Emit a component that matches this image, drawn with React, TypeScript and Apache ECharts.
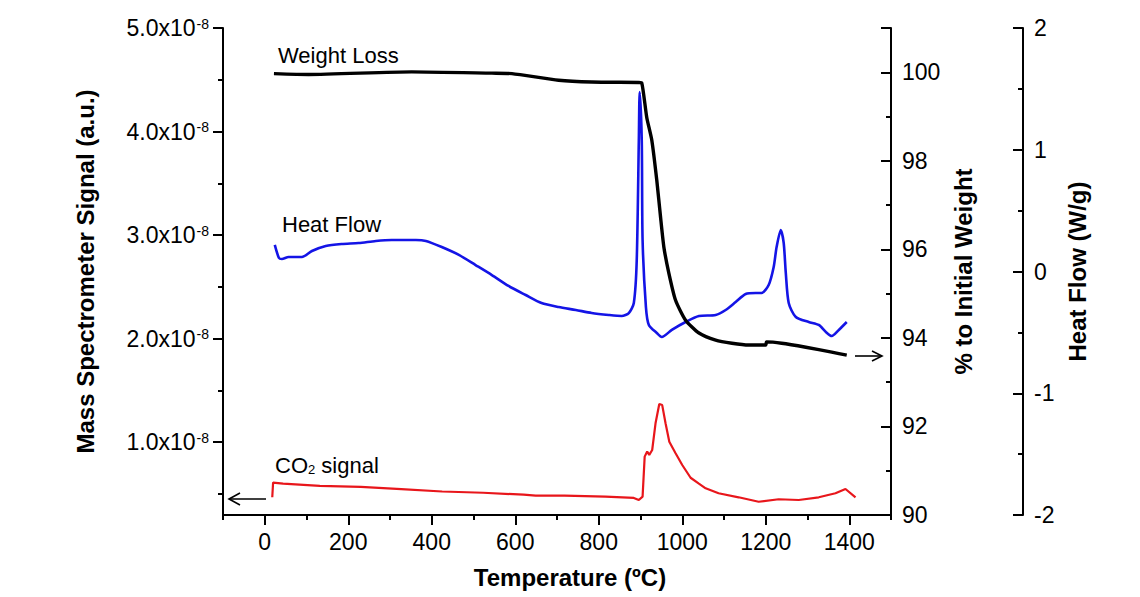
import React, { useEffect, useRef } from 'react';
import * as echarts from 'echarts';

const FONT = '"Liberation Sans", Arial, Helvetica, sans-serif';

// ---- Axis ticks / labels ----
const xMajor = [0, 200, 400, 600, 800, 1000, 1200, 1400];
const xMinor = [-100, 100, 300, 500, 700, 900, 1100, 1300, 1500];
const msMajor = [1, 2, 3, 4, 5]; // x10^-8
const msMinor = [0.5, 1.5, 2.5, 3.5, 4.5];
const wtLabels = [90, 92, 94, 96, 98, 100];
const wtMajorTicks = [90, 92, 94, 96, 98, 100, 101];
const wtMinor = [91, 93, 95, 97, 99];
const hfMajor = [-2, -1, 0, 1, 2];
const hfMinor = [-1.5, -0.5, 0.5, 1.5];

// ---- Weight loss (% to initial weight) ----
const weightT = [22, 105, 352, 544, 592, 704, 783, 896, 903, 915, 927, 939, 948, 956, 968, 984, 1008, 1040, 1080, 1119, 1159, 1200, 1202, 1238, 1296, 1358, 1394];
const weightPct = [99.97, 99.95, 100.01, 99.98, 99.97, 99.82, 99.78, 99.77, 99.76, 98.98, 98.47, 97.56, 96.73, 96.05, 95.46, 94.85, 94.4, 94.11, 93.95, 93.88, 93.84, 93.84, 93.91, 93.88, 93.79, 93.68, 93.61];

// ---- Heat flow (W/g) ----
const heatT = [24, 34, 41, 57, 74, 89, 113, 146, 184, 225, 266, 304, 362, 386, 424, 465, 505, 544, 584, 625, 663, 704, 745, 783, 824, 855, 872, 884, 891, 896, 898, 903, 905, 913, 920, 939, 951, 975, 1008, 1040, 1080, 1104, 1128, 1152, 1176, 1190, 1207, 1219, 1226, 1236, 1243, 1248, 1255, 1272, 1303, 1327, 1344, 1358, 1375, 1394];
const heatFlow = [0.218, 0.111, 0.103, 0.119, 0.119, 0.119, 0.168, 0.209, 0.226, 0.234, 0.251, 0.259, 0.259, 0.251, 0.201, 0.136, 0.053, -0.029, -0.119, -0.193, -0.259, -0.292, -0.316, -0.341, -0.357, -0.365, -0.341, -0.259, 0.094, 1.08, 1.474, 1.08, 0.259, -0.292, -0.439, -0.505, -0.538, -0.48, -0.415, -0.366, -0.357, -0.316, -0.251, -0.185, -0.177, -0.177, -0.111, 0.037, 0.201, 0.341, 0.234, -0.012, -0.259, -0.374, -0.415, -0.439, -0.497, -0.53, -0.48, -0.415];

// ---- CO2 mass spectrometer signal (x10^-8 a.u.) ----
const co2T = [18, 20, 44, 132, 230, 327, 425, 523, 620, 649, 718, 816, 884, 896, 905, 910, 916, 921, 928, 936, 945, 952, 960, 969, 984, 1000, 1020, 1039, 1056, 1087, 1135, 1183, 1231, 1279, 1327, 1367, 1391, 1415];
const co2Signal = [0.466, 0.608, 0.598, 0.576, 0.567, 0.545, 0.522, 0.51, 0.491, 0.482, 0.482, 0.472, 0.46, 0.44, 0.472, 0.859, 0.908, 0.876, 0.923, 1.181, 1.368, 1.357, 1.181, 1.003, 0.891, 0.778, 0.655, 0.601, 0.553, 0.505, 0.466, 0.423, 0.447, 0.44, 0.466, 0.505, 0.546, 0.466];

const pairs = (xs: number[], ys: number[]) => xs.map((x, i) => [x, ys[i]]);

const axisLineStyle = { color: '#000', width: 2 };
const tickStyle = { color: '#000', width: 2 };
const LABEL_SIZE = 23;
const labelBase = { color: '#000', fontSize: LABEL_SIZE, fontFamily: FONT };
const nameStyle = { color: '#000', fontSize: 24, fontWeight: 'bold' as const, fontFamily: FONT };

function buildOption() {
  return {
    animation: false,
    backgroundColor: '#fff',
    grid: { left: 223, right: 249, top: 28, bottom: 82, containLabel: false },
    xAxis: [
      {
        type: 'value', min: -100, max: 1500, position: 'bottom',
        axisLine: { show: true, onZero: false, lineStyle: axisLineStyle },
        axisTick: { show: true, inside: false, length: 10, lineStyle: tickStyle, customValues: xMajor },
        axisLabel: { ...labelBase, margin: 15, customValues: xMajor, formatter: (v: number) => String(v) },
        splitLine: { show: false },
        name: 'Temperature (ºC)', nameLocation: 'middle', nameGap: 50,
        nameTextStyle: { ...nameStyle, padding: [0, 0, 0, 26] },
      },
      {
        type: 'value', min: -100, max: 1500, position: 'bottom',
        axisLine: { show: false, onZero: false },
        axisTick: { show: true, inside: false, length: 5, lineStyle: tickStyle, customValues: xMinor },
        axisLabel: { show: false },
        splitLine: { show: false },
      },
    ],
    yAxis: [
      {
        type: 'value', min: 0.295, max: 5, position: 'left', offset: 0,
        axisLine: { show: true, onZero: false, lineStyle: axisLineStyle },
        axisTick: { show: true, inside: false, length: 10, lineStyle: tickStyle, customValues: msMajor },
        axisLabel: {
          ...labelBase, margin: 14, customValues: msMajor,
          formatter: (v: number) => `{n|${v.toFixed(1)}x10}{s|-8}`,
          rich: {
            n: { fontSize: LABEL_SIZE, fontFamily: FONT, color: '#000' },
            s: { fontSize: 14, fontFamily: FONT, color: '#000', verticalAlign: 'top', padding: [0, 0, 9, 1] },
          },
        },
        splitLine: { show: false },
        name: 'Mass Spectrometer Signal (a.u.)', nameLocation: 'middle', nameGap: 126,
        nameTextStyle: nameStyle,
      },
      {
        type: 'value', min: 0.295, max: 5, position: 'left', offset: 0,
        axisLine: { show: false, onZero: false },
        axisTick: { show: true, inside: false, length: 5, lineStyle: tickStyle, customValues: msMinor },
        axisLabel: { show: false },
        splitLine: { show: false },
      },
      {
        type: 'value', min: 90, max: 101, position: 'right', offset: 0,
        axisLine: { show: true, onZero: false, lineStyle: axisLineStyle },
        axisTick: { show: true, inside: true, length: 10, lineStyle: tickStyle, customValues: wtMajorTicks },
        axisLabel: { ...labelBase, margin: 11, customValues: wtLabels },
        splitLine: { show: false },
        name: '% to Initial Weight', nameLocation: 'middle', nameGap: 56,
        nameTextStyle: nameStyle,
      },
      {
        type: 'value', min: 90, max: 101, position: 'right', offset: 0,
        axisLine: { show: false, onZero: false },
        axisTick: { show: true, inside: true, length: 5, lineStyle: tickStyle, customValues: wtMinor },
        axisLabel: { show: false },
        splitLine: { show: false },
      },
      {
        type: 'value', min: -2, max: 2, position: 'right', offset: 132,
        axisLine: { show: true, onZero: false, lineStyle: axisLineStyle },
        axisTick: { show: true, inside: true, length: 10, lineStyle: tickStyle, customValues: hfMajor },
        axisLabel: { ...labelBase, margin: 11, customValues: hfMajor },
        splitLine: { show: false },
        name: 'Heat Flow (W/g)', nameLocation: 'middle', nameGap: 40,
        nameTextStyle: nameStyle,
      },
      {
        type: 'value', min: -2, max: 2, position: 'right', offset: 132,
        axisLine: { show: false, onZero: false },
        axisTick: { show: true, inside: true, length: 5, lineStyle: tickStyle, customValues: hfMinor },
        axisLabel: { show: false },
        splitLine: { show: false },
      },
    ],
    series: [
      {
        name: 'CO2 signal', type: 'line', xAxisIndex: 0, yAxisIndex: 0,
        data: pairs(co2T, co2Signal), showSymbol: false, symbol: 'none',
        lineStyle: { color: '#e8161b', width: 2.2 },
      },
      {
        name: 'Heat Flow', type: 'line', xAxisIndex: 0, yAxisIndex: 4,
        data: pairs(heatT, heatFlow), showSymbol: false, symbol: 'none', smooth: 0.25,
        lineStyle: { color: '#1414e6', width: 2.6 },
      },
      {
        name: 'Weight Loss', type: 'line', xAxisIndex: 0, yAxisIndex: 2,
        data: pairs(weightT, weightPct), showSymbol: false, symbol: 'none', smooth: 0.2,
        lineStyle: { color: '#000', width: 3.4 },
      },
    ],
    graphic: [
      {
        type: 'text', x: 278, y: 55,
        style: { text: 'Weight Loss', fill: '#000', fontSize: 22, fontFamily: FONT, verticalAlign: 'middle' },
      },
      {
        type: 'text', x: 282, y: 224,
        style: { text: 'Heat Flow', fill: '#000', fontSize: 22, fontFamily: FONT, verticalAlign: 'middle' },
      },
      {
        type: 'text', x: 275, y: 465,
        style: {
          text: '{n|CO}{s|2}{n| signal}', verticalAlign: 'middle',
          rich: {
            n: { fontSize: 22, fontFamily: FONT, fill: '#000' },
            s: { fontSize: 13, fontFamily: FONT, fill: '#000', verticalAlign: 'bottom', padding: [8, 0, 0, 0] },
          },
        },
      },
      { type: 'line', shape: { x1: 266, y1: 499, x2: 229, y2: 499 }, style: { stroke: '#000', lineWidth: 1.6 } },
      { type: 'polyline', shape: { points: [[240, 493], [229, 499], [240, 505]] }, style: { stroke: '#000', lineWidth: 1.6, fill: 'none' } },
      { type: 'line', shape: { x1: 855, y1: 356, x2: 882, y2: 356 }, style: { stroke: '#000', lineWidth: 1.6 } },
      { type: 'polyline', shape: { points: [[872, 351], [882, 356], [872, 361]] }, style: { stroke: '#000', lineWidth: 1.6, fill: 'none' } },
    ],
  };
}

export default function App() {
  const ref = useRef<HTMLDivElement>(null);
  useEffect(() => {
    document.body.style.margin = '0';
    if (!ref.current) return;
    const chart = echarts.init(ref.current, null, { renderer: 'svg' });
    chart.setOption(buildOption() as any);
    return () => chart.dispose();
  }, []);
  return <div ref={ref} style={{ width: 1140, height: 597 }} />;
}
